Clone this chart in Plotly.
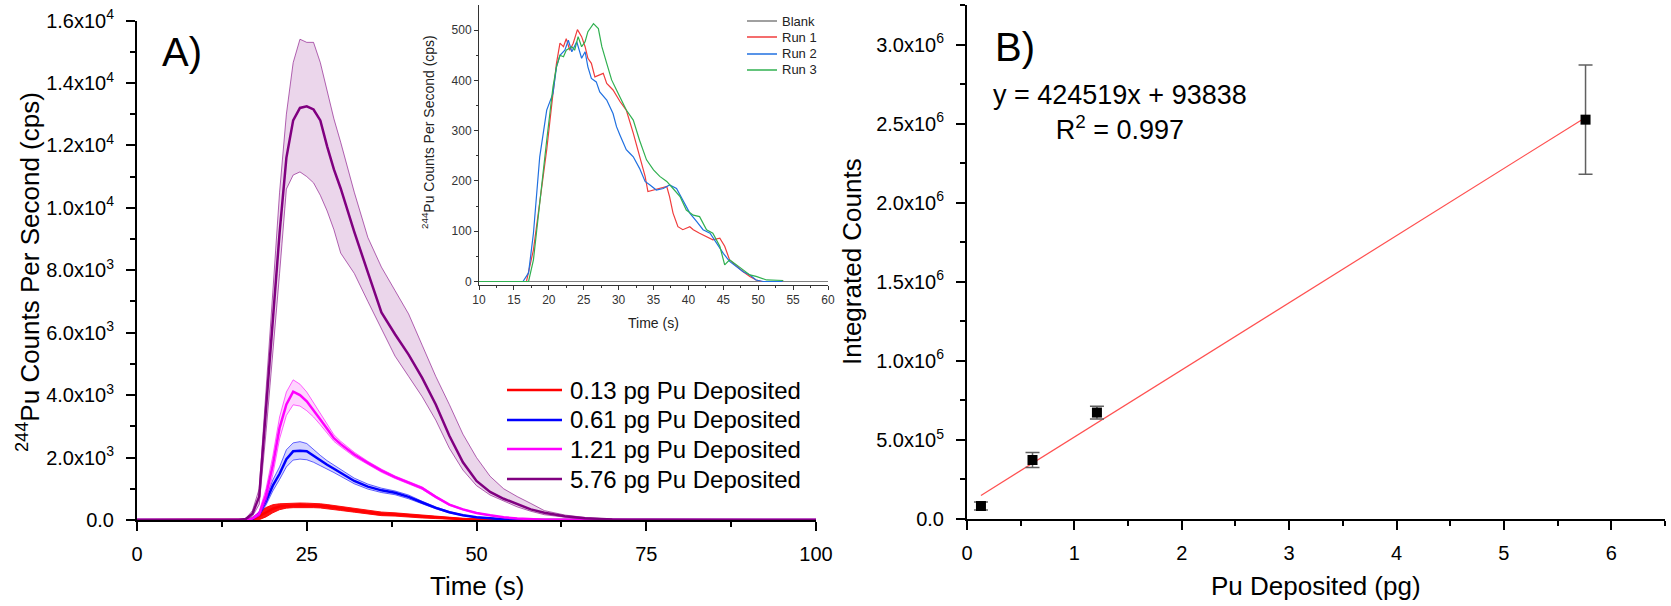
import plotly.graph_objects as go

# ---------------- Panel A: main time traces ----------------
t_main = [0, 15, 16, 17, 18, 19, 20, 21, 22, 23, 24, 25, 26, 27, 28, 29, 30, 32, 34, 36, 38, 40,
          42, 44, 46, 48, 50, 52, 54, 56, 58, 60, 63, 66, 70, 75, 100]

red_mean = [0, 0, 2, 20, 120, 250, 360, 430, 455, 465, 470, 470, 465, 455, 430, 400, 370, 315, 245, 195, 175, 140,
            110, 80, 55, 28, 12, 4, 1, 0, 0, 0, 0, 0, 0, 0, 0]
red_hi = [0, 0, 6, 60, 250, 400, 490, 520, 535, 540, 545, 540, 535, 520, 495, 465, 435, 380, 310, 255, 230, 190,
          155, 120, 90, 55, 30, 12, 4, 1, 0, 0, 0, 0, 0, 0, 0]
red_lo = [0, 0, 0, 0, 10, 100, 230, 330, 380, 395, 400, 400, 395, 385, 365, 335, 305, 250, 185, 140, 125, 90,
          65, 45, 25, 5, 0, 0, 0, 0, 0, 0, 0, 0, 0, 0, 0]

blue_mean = [0, 0, 5, 40, 200, 600, 1100, 1480, 1950, 2200, 2220, 2200, 2050, 1900, 1770, 1640, 1510, 1250, 1070,
             950, 870, 740, 560, 390, 250, 150, 85, 50, 25, 12, 6, 4, 1, 0, 0, 0, 0]
blue_hi = [0, 0, 8, 60, 260, 720, 1280, 1700, 2250, 2470, 2510, 2450, 2250, 2070, 1900, 1760, 1620, 1340, 1150,
           1020, 930, 800, 600, 420, 270, 165, 95, 56, 28, 14, 7, 5, 1, 0, 0, 0, 0]
blue_lo = [0, 0, 3, 25, 150, 480, 930, 1300, 1700, 1920, 1950, 1930, 1850, 1740, 1640, 1520, 1400, 1160, 990,
           880, 810, 680, 520, 360, 230, 135, 76, 45, 22, 10, 5, 3, 1, 0, 0, 0, 0]

mag_mean = [0, 0, 5, 50, 200, 800, 1750, 2950, 3700, 4110, 4000, 3800, 3520, 3220, 2920, 2620, 2430, 2100, 1830,
            1580, 1370, 1190, 1020, 740, 490, 340, 225, 150, 85, 50, 25, 12, 5, 2, 0, 0, 0]
mag_hi = [0, 0, 8, 70, 280, 1000, 2050, 3300, 4100, 4490, 4350, 4100, 3750, 3400, 3050, 2730, 2520, 2170, 1880,
          1630, 1410, 1230, 1060, 770, 510, 355, 235, 158, 90, 53, 27, 13, 6, 2, 0, 0, 0]
mag_lo = [0, 0, 3, 30, 130, 600, 1450, 2600, 3350, 3690, 3650, 3500, 3300, 3050, 2800, 2520, 2350, 2030, 1780,
          1530, 1330, 1150, 980, 710, 470, 325, 215, 142, 80, 47, 23, 11, 4, 1, 0, 0, 0]

pur_mean = [0, 0, 30, 200, 750, 3500, 6300, 9200, 11600, 12800, 13200, 13250, 13150, 12800, 11970, 11230, 10620,
            9230, 7930, 6650, 5950, 5300, 4550, 3700, 2700, 1850, 1250, 900, 680, 500, 340, 230, 120, 60, 20, 5, 0]
pur_hi = [0, 0, 40, 300, 1000, 4300, 7300, 10500, 13000, 14650, 15400, 15300, 15300, 14650, 13750, 12850, 12100,
          10500, 9050, 8100, 7350, 6600, 5600, 4600, 3700, 2750, 2000, 1400, 1000, 750, 530, 300, 160, 80, 25, 6, 0]
pur_lo = [0, 0, 20, 120, 500, 2800, 5300, 7900, 10600, 11050, 11150, 11000, 10800, 10400, 9900, 9300, 8550,
          7900, 7000, 6100, 5250, 4600, 3950, 3200, 2300, 1600, 1100, 800, 600, 420, 280, 170, 90, 40, 15, 4, 0]

series_names = ["0.13 pg Pu Deposited", "0.61 pg Pu Deposited", "1.21 pg Pu Deposited", "5.76 pg Pu Deposited"]

a_xticks = [0, 25, 50, 75, 100]
a_yticks = [0, 2000, 4000, 6000, 8000, 10000, 12000, 14000, 16000]
a_yticktext = ["0.0", "2.0x10<sup>3</sup>", "4.0x10<sup>3</sup>", "6.0x10<sup>3</sup>", "8.0x10<sup>3</sup>",
               "1.0x10<sup>4</sup>", "1.2x10<sup>4</sup>", "1.4x10<sup>4</sup>", "1.6x10<sup>4</sup>"]

# ---------------- Inset: 0.13 pg individual runs ----------------
blank_t = [10, 60]
blank_v = [0, 0]

run1_t = [10, 16.8, 17.8, 18.7, 19.7, 20.6, 21.1, 21.6, 22.1, 22.5, 23.0, 23.5, 24.1, 24.7, 25.2, 25.6, 26.1, 26.6,
          27.3, 27.8, 28.3, 29.2, 30.2, 31.1, 32.1, 33.0, 33.8, 34.2, 35.0, 35.9, 36.9, 37.3, 37.8, 38.5, 39.2,
          40.2, 40.7, 41.6, 42.6, 43.5, 44.5, 45.2, 45.9, 46.9, 47.8, 48.8, 49.7, 50.5, 53.5]
run1_v = [0, 0, 63, 162, 262, 374, 434, 474, 467, 483, 460, 474, 501, 487, 467, 444, 434, 407, 411, 414, 394, 381,
          358, 341, 295, 248, 209, 179, 182, 185, 189, 169, 136, 109, 103, 109, 103, 96, 89, 83, 86, 70, 43, 30,
          20, 10, 3, 0, 0]

run2_t = [10, 16.3, 17.1, 17.8, 18.7, 19.7, 20.6, 21.1, 21.6, 22.3, 22.8, 23.3, 24.0, 24.7, 25.2, 25.6, 26.1, 26.8,
          27.3, 28.3, 29.2, 29.7, 30.2, 31.1, 31.6, 32.1, 33.0, 33.8, 34.5, 35.4, 36.4, 37.3, 38.3, 39.2, 40.2,
          41.2, 42.1, 43.1, 44.0, 45.0, 45.9, 46.9, 47.8, 48.8, 49.7, 50.7, 53.5]
run2_v = [0, 0, 17, 96, 248, 341, 374, 427, 450, 460, 480, 457, 477, 444, 457, 427, 404, 397, 377, 361, 334, 308,
          291, 262, 255, 248, 225, 199, 192, 182, 185, 192, 185, 162, 136, 119, 103, 96, 76, 56, 40, 30, 20, 13,
          3, 0, 0]

run3_t = [10, 17.1, 17.8, 18.7, 19.7, 20.6, 21.1, 21.6, 22.1, 22.5, 23.3, 23.7, 24.2, 24.7, 25.2, 25.6, 26.4, 27.1,
          27.6, 28.3, 29.0, 29.7, 30.4, 31.1, 32.1, 33.0, 34.0, 35.0, 35.9, 36.9, 37.8, 38.8, 39.7, 40.7, 41.6,
          42.6, 43.5, 44.5, 45.2, 45.9, 46.9, 47.8, 48.8, 49.7, 50.5, 51.2, 53.6]
run3_v = [0, 0, 43, 162, 281, 387, 427, 450, 447, 460, 467, 460, 487, 467, 477, 497, 513, 503, 467, 434, 401, 381,
          361, 341, 321, 281, 242, 222, 209, 199, 185, 169, 142, 132, 129, 103, 96, 70, 33, 43, 33, 23, 13, 10,
          7, 3, 2]

inset_names = ["Blank", "Run 1", "Run 2", "Run 3"]
inset_xticks = [10, 15, 20, 25, 30, 35, 40, 45, 50, 55, 60]
inset_yticks = [0, 100, 200, 300, 400, 500]

# ---------------- Panel B: calibration ----------------
pu_deposited = [0.13, 0.61, 1.21, 5.76]
integrated_counts = [82000, 373000, 673000, 2525000]
counts_err = [25000, 48000, 40000, 345000]
fit_slope = 424519
fit_intercept = 93838

b_xticks = [0, 1, 2, 3, 4, 5, 6]
b_yticks = [0, 500000, 1000000, 1500000, 2000000, 2500000, 3000000]
b_yticktext = ["0.0", "5.0x10<sup>5</sup>", "1.0x10<sup>6</sup>", "1.5x10<sup>6</sup>", "2.0x10<sup>6</sup>",
               "2.5x10<sup>6</sup>", "3.0x10<sup>6</sup>"]

FONT = "Liberation Sans, Arial, sans-serif"
W, H = 1671, 606


def px_x(p):
    return p / W


def px_y(p):
    return 1 - p / H


fig = go.Figure()

main_colors = ["#FF0000", "#0000FF", "#FF00FF", "#800080"]
main_sets = [
    (red_mean, red_hi, red_lo, "rgba(255,0,0,0.92)", "rgba(255,0,0,0.9)"),
    (blue_mean, blue_hi, blue_lo, "rgba(0,0,255,0.17)", "rgba(0,0,255,0.6)"),
    (mag_mean, mag_hi, mag_lo, "rgba(255,0,255,0.17)", "rgba(255,0,255,0.6)"),
    (pur_mean, pur_hi, pur_lo, "rgba(128,0,128,0.16)", "rgba(128,0,128,0.6)"),
]
for (m, hi, lo, fillc, edgec), col, name in zip(main_sets, main_colors, series_names):
    fig.add_trace(go.Scatter(x=t_main, y=hi, mode="lines", line=dict(color=edgec, width=1),
                             showlegend=False, hoverinfo="skip", xaxis="x", yaxis="y"))
    fig.add_trace(go.Scatter(x=t_main, y=lo, mode="lines", line=dict(color=edgec, width=1),
                             fill="tonexty", fillcolor=fillc, showlegend=False, hoverinfo="skip",
                             xaxis="x", yaxis="y"))
    fig.add_trace(go.Scatter(x=t_main, y=m, mode="lines", line=dict(color=col, width=2.5),
                             name=name, showlegend=False, xaxis="x", yaxis="y"))

inset_colors = ["#808080", "#F03C3C", "#2070E0", "#30B050"]
inset_sets = [(blank_t, blank_v), (run1_t, run1_v), (run2_t, run2_v), (run3_t, run3_v)]
for (tx, vy), col, name in zip(inset_sets, inset_colors, inset_names):
    fig.add_trace(go.Scatter(x=tx, y=vy, mode="lines", line=dict(color=col, width=1.2),
                             name=name, showlegend=False, xaxis="x2", yaxis="y2"))

fit_x = [pu_deposited[0], pu_deposited[-1]]
fit_y = [fit_slope * v + fit_intercept for v in fit_x]
fig.add_trace(go.Scatter(x=fit_x, y=fit_y, mode="lines", line=dict(color="rgba(255,60,60,0.9)", width=1.2),
                         showlegend=False, xaxis="x3", yaxis="y3"))
fig.add_trace(go.Scatter(x=pu_deposited, y=integrated_counts, mode="markers",
                         marker=dict(symbol="square", size=10, color="black"),
                         error_y=dict(type="data", array=counts_err, color="#606060", thickness=1.5, width=7),
                         showlegend=False, xaxis="x3", yaxis="y3"))

main_axis = dict(showline=True, linecolor="black", linewidth=2, ticks="outside", ticklen=9, tickwidth=2,
                 tickcolor="black", showgrid=False, zeroline=False, automargin=False,
                 tickfont=dict(family=FONT, size=20, color="black"))
inset_axis = dict(showline=True, linecolor="#333333", linewidth=1, ticks="outside", ticklen=4, tickwidth=1,
                  tickcolor="#333333", showgrid=False, zeroline=False, automargin=False,
                  tickfont=dict(family=FONT, size=12, color="#333333"))

fig.update_layout(
    template="none",
    width=W, height=H, margin=dict(l=0, r=0, t=0, b=0, pad=0, autoexpand=False),
    paper_bgcolor="white", plot_bgcolor="rgba(0,0,0,0)",
    font=dict(family=FONT, color="black"),
    showlegend=False,
    xaxis=dict(main_axis, domain=[px_x(137), px_x(816)], range=[0, 100], tickvals=a_xticks,
               minor=dict(tickvals=[12.5, 37.5, 62.5, 87.5], ticklen=5, tickwidth=2, tickcolor="black",
                          ticks="outside"), anchor="y", ticklabelstandoff=6),
    yaxis=dict(main_axis, domain=[px_y(520), px_y(20.5)], range=[0, 16000], tickvals=a_yticks,
               ticktext=a_yticktext,
               minor=dict(tickvals=[1000, 3000, 5000, 7000, 9000, 11000, 13000, 15000], ticklen=5,
                          tickwidth=2, tickcolor="black", ticks="outside"), anchor="x", ticklabelstandoff=8),
    xaxis2=dict(inset_axis, domain=[px_x(479), px_x(828)], range=[10, 60], tickvals=inset_xticks,
                minor=dict(tickvals=[12.5, 17.5, 22.5, 27.5, 32.5, 37.5, 42.5, 47.5, 52.5, 57.5], ticklen=2,
                           tickwidth=1, tickcolor="#333333", ticks="outside"), anchor="y2"),
    yaxis2=dict(inset_axis, domain=[px_y(285), px_y(5)], range=[-7, 550], tickvals=inset_yticks,
                minor=dict(tickvals=[50, 150, 250, 350, 450], ticklen=2, tickwidth=1, tickcolor="#333333",
                           ticks="outside"), anchor="x2"),
    xaxis3=dict(main_axis, domain=[px_x(967), px_x(1665)], range=[0, 6.5], tickvals=b_xticks,
                minor=dict(tickvals=[0.5, 1.5, 2.5, 3.5, 4.5, 5.5, 6.5], ticklen=5, tickwidth=2,
                           tickcolor="black", ticks="outside"), anchor="y3", ticklabelstandoff=6),
    yaxis3=dict(main_axis, domain=[px_y(519), px_y(5)], range=[0, 3250000], tickvals=b_yticks,
                ticktext=b_yticktext,
                minor=dict(tickvals=[250000, 750000, 1250000, 1750000, 2250000, 2750000, 3250000], ticklen=5,
                           tickwidth=2, tickcolor="black", ticks="outside"), anchor="x3", ticklabelstandoff=8),
)

# ---- legends (drawn as line samples + real text) ----
main_leg_rows = [390, 420, 449, 479]
for row, col, name in zip(main_leg_rows, main_colors, series_names):
    fig.add_shape(type="line", xref="paper", yref="paper", x0=px_x(507), x1=px_x(562),
                  y0=px_y(row), y1=px_y(row), line=dict(color=col, width=2.5))
    fig.add_annotation(xref="paper", yref="paper", x=px_x(568), y=px_y(row), text=name, showarrow=False,
                       xanchor="left", yanchor="middle", font=dict(family=FONT, size=24, color="black"))

inset_leg_rows = [21, 37, 54, 70]
for row, col, name in zip(inset_leg_rows, inset_colors, inset_names):
    fig.add_shape(type="line", xref="paper", yref="paper", x0=px_x(747), x1=px_x(777),
                  y0=px_y(row), y1=px_y(row), line=dict(color=col, width=1.5))
    fig.add_annotation(xref="paper", yref="paper", x=px_x(780), y=px_y(row), text=name, showarrow=False,
                       xanchor="left", yanchor="middle", font=dict(family=FONT, size=13, color="#222222"))

annots = [
    dict(text="A)", x=px_x(182), y=px_y(52), font=dict(size=40)),
    dict(text="B)", x=px_x(1015), y=px_y(47), font=dict(size=40)),
    dict(text="y = 424519x + 93838<br>R<sup>2</sup> = 0.997", x=px_x(1120), y=px_y(112), font=dict(size=27)),
    dict(text="Time (s)", x=px_x(477), y=px_y(586), font=dict(size=26)),
    dict(text="Pu Deposited (pg)", x=px_x(1316), y=px_y(586), font=dict(size=26)),
    dict(text="<sup>244</sup>Pu Counts Per Second (cps)", x=px_x(28), y=px_y(272), textangle=-90,
         font=dict(size=26)),
    dict(text="Integrated Counts", x=px_x(852), y=px_y(262), textangle=-90, font=dict(size=26)),
    dict(text="Time (s)", x=px_x(653), y=px_y(323), font=dict(size=14, color="#222222")),
    dict(text="<sup>244</sup>Pu Counts Per Second (cps)", x=px_x(428), y=px_y(132), textangle=-90,
         font=dict(size=14, color="#222222")),
]
for a in annots:
    f = dict(family=FONT, color="black")
    f.update(a.pop("font"))
    fig.add_annotation(xref="paper", yref="paper", showarrow=False, xanchor="center", yanchor="middle",
                       align="center", font=f, **a)

fig.write_html("out.html", config={"displayModeBar": False},
               post_script="document.body.style.margin='0px';document.body.style.overflow='hidden';")
